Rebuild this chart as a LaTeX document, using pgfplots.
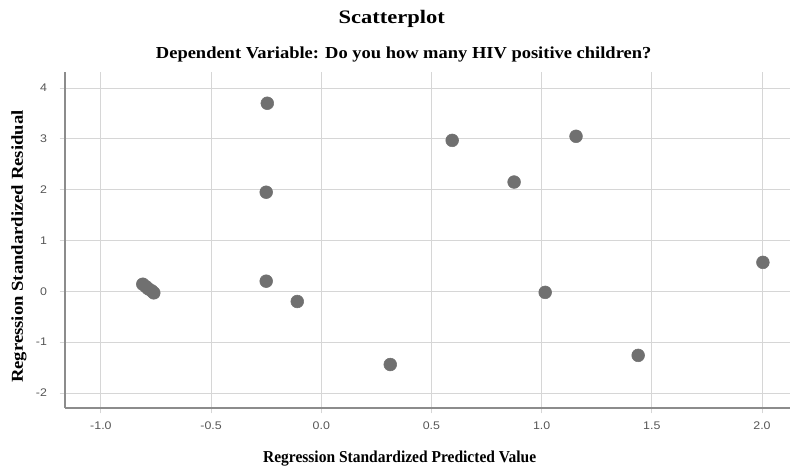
\documentclass[border=0pt]{standalone}
\usepackage{fontspec}
\setmainfont{Liberation Serif}
\newfontfamily\ttlA[FakeStretch=1.18]{Liberation Serif}
\newfontfamily\ttlB[FakeStretch=1.10]{Liberation Serif}
\newfontfamily\ttlX[FakeStretch=0.93]{Liberation Serif}
\newfontfamily\ttlY[FakeStretch=1.12]{Liberation Serif}
\newfontfamily\tck[FakeStretch=1.12]{Liberation Sans}
\usepackage{pgfplots}
\pgfplotsset{compat=1.18}
\definecolor{dotc}{RGB}{112,112,112}
\definecolor{gridc}{RGB}{214,214,214}
\definecolor{axc}{RGB}{140,140,140}
\definecolor{tickc}{RGB}{85,85,85}
\begin{document}
\begin{tikzpicture}
\useasboundingbox (-48.75pt,-44.25pt) rectangle (546.75pt,306pt);
\begin{axis}[
  at={(0pt,0pt)}, anchor=south west,
  scale only axis, width=543.75pt, height=252pt,
  xmin=-1.163, xmax=2.127, ymin=-2.295, ymax=4.315,
  axis x line*=bottom, axis y line*=left,
  axis line style={color=axc, line width=0.8pt},
  xtick={-1,-0.5,0,0.5,1,1.5,2},
  ytick={-2,-1,0,1,2,3,4},
  xticklabels={-1.0,-0.5,0.0,0.5,1.0,1.5,2.0},
  yticklabels={-2,-1,0,1,2,3,4},
  grid=major,
  major grid style={color=gridc, line width=0.75pt},
  tick style={color=gridc, line width=0.75pt},
  tick align=outside, major tick length=4pt,
  ticklabel style={font=\tck\fontsize{8.3}{9}\selectfont, color=tickc},
  xticklabel style={yshift=-3pt},
  yticklabel style={xshift=-6pt},
  clip=false,
]
\addplot[only marks, mark=*, mark size=4.8pt, mark options={fill=dotc, draw=dotc}] coordinates {
  (-0.245,3.70) (-0.25,1.95) (-0.25,0.20) (-0.109,-0.20)
  (0.313,-1.44) (0.594,2.97) (0.875,2.15) (1.156,3.05)
  (1.016,-0.02) (1.438,-1.26) (2.004,0.57)
  (-0.81,0.14) (-0.795,0.09) (-0.785,0.05) (-0.77,0.01) (-0.76,-0.03)
};
\end{axis}
\node[font=\ttlA\bfseries\fontsize{14.3}{16}\selectfont] at (245pt,292pt) {Scatterplot};
\node[font=\ttlB\bfseries\fontsize{12.6}{14}\selectfont] at (254pt,265pt) {Dependent Variable: Do you how many HIV positive children?};
\node[font=\ttlX\bfseries\fontsize{12.5}{14}\selectfont] at (251pt,-38pt) {Regression Standardized Predicted Value};
\node[font=\ttlY\bfseries\fontsize{12.5}{14}\selectfont, rotate=90] at (-34.5pt,121pt) {Regression Standardized Residual};
\end{tikzpicture}
\end{document}
